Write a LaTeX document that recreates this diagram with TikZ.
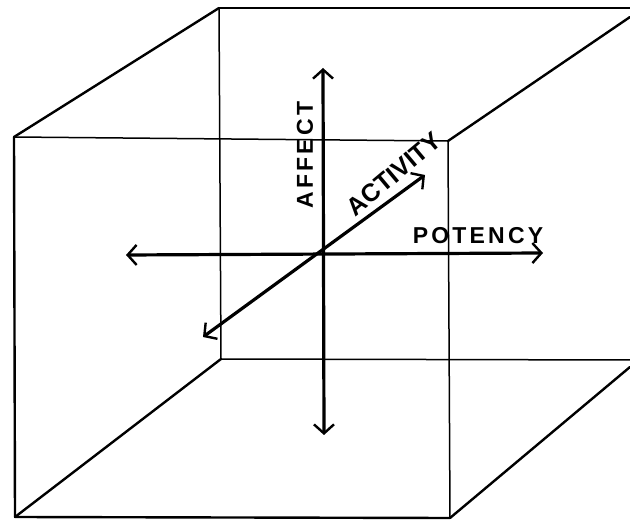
\documentclass[tikz,border=0pt]{standalone}
\usepackage{fontspec}
\newfontfamily\hand[LetterSpace=14]{Liberation Sans}
\newfontfamily\handtight{Liberation Sans}
\usetikzlibrary{arrows.meta}
\begin{document}
\begin{tikzpicture}[x=1pt,y=-1pt,
  edge/.style={line width=2.4pt, line cap=round, line join=round},
  thinedge/.style={line width=1.5pt, line cap=round},
  barb/.tip={Straight Barb[length=9pt,width=20pt,line width=2.4pt]},
  axis/.style={line width=3.2pt, barb-barb},
  lab/.style={font=\hand\bfseries\fontsize{23}{23}\selectfont, inner sep=0pt}]
\useasboundingbox (0,0) rectangle (630,521);
% cube corners
\coordinate (b1) at (219,8);
\coordinate (b2) at (630,8);
\coordinate (b3) at (630,360);
\coordinate (b4) at (221,359);
\coordinate (r1) at (630,17);
\coordinate (r2) at (630,367);
\coordinate (f1) at (14,137);
\coordinate (f2) at (448,141);
\coordinate (f3) at (450,518);
\coordinate (f4) at (15,517);
% back face
\draw[thinedge] (b1) -- (b4);
\draw[thinedge] (b4) -- (b3);
\draw[edge] (b1) -- (b2);
% front face
\draw[thinedge] (f1) -- (f2);
\draw[thinedge] (f2) -- (f3);
\draw[edge] (f1) -- (f4);
\draw[edge] (f4) -- (f3);
% depth edges
\draw[edge] (f1) -- (b1);
\draw[edge] (f2) -- (r1);
\draw[edge] (f4) -- (b4);
\draw[edge] (f3) -- (r2);
% axes
\coordinate (aT) at (323,68);
\coordinate (aB) at (324,435);
\coordinate (pL) at (126,255);
\coordinate (pR) at (543,253);
\coordinate (cF) at (425,175);
\coordinate (cB) at (203,337);
\draw[axis] (aB) -- (aT);
\draw[axis] (pL) -- (pR);
\draw[axis] (cB) -- (cF);
% labels
\node[lab, rotate=90] (affect) at (305,155) {AFFECT};
\node[lab] (potency) at (478,236) {POTENCY};
\node[lab, font=\handtight\bfseries\fontsize{25}{25}\selectfont, rotate=40] (activity) at (394,174) {ACTIVITY};
\end{tikzpicture}
\end{document}
